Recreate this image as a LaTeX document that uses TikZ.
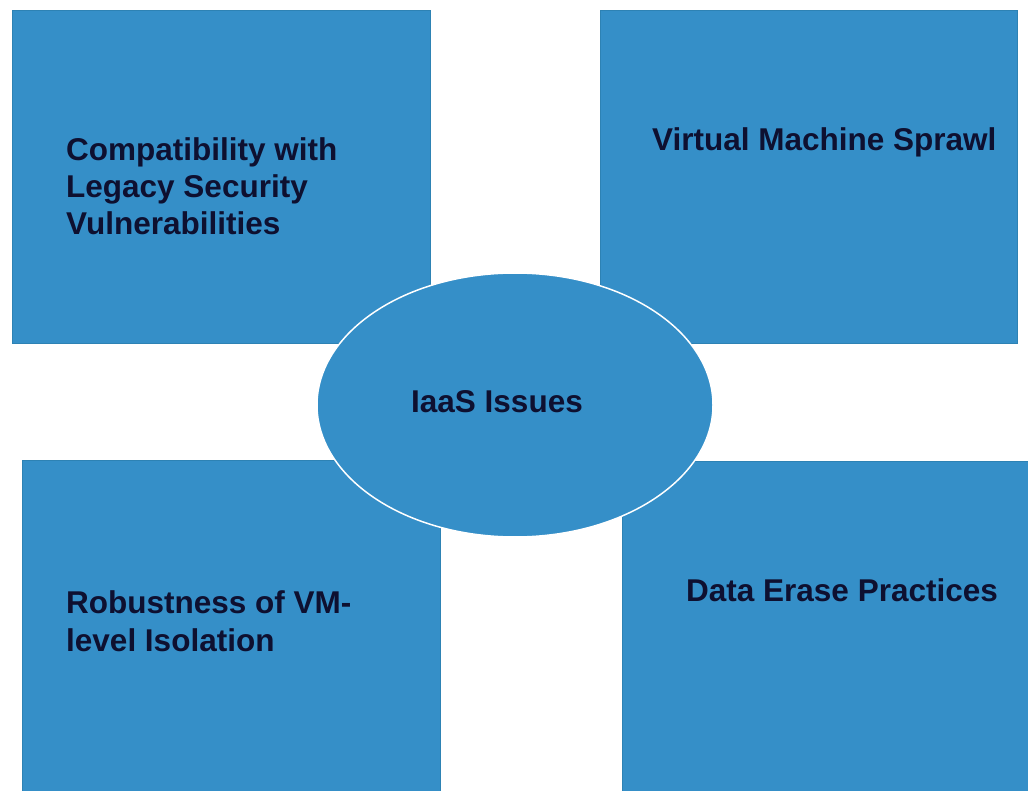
\documentclass[tikz,border=0pt]{standalone}
\usepackage{fontspec}
\setmainfont{Liberation Sans}
\usetikzlibrary{shapes.geometric}
\definecolor{boxblue}{RGB}{53,143,200}
\definecolor{edgeblue}{RGB}{45,130,180}
\definecolor{txt}{RGB}{14,16,48}
\tikzset{
  bluebox/.style={rectangle, fill=boxblue, draw=edgeblue, line width=0.6pt, inner sep=0pt, anchor=north west},
  lbl/.style={anchor=base west, inner sep=0pt, text=txt, font=\fontsize{31.5}{37}\selectfont\bfseries},
  hub/.style={ellipse, fill=boxblue, draw=white, line width=1.5pt, inner sep=0pt, minimum width=396pt, minimum height=264pt}
}
\begin{document}
\begin{tikzpicture}[x=1pt,y=-1pt]
\useasboundingbox (0,0) rectangle (1028,791);
\fill[white] (0,0) rectangle (1028,791);
\node[bluebox, minimum width=418pt, minimum height=333pt] (tl) at (12,10) {};
\node[bluebox, minimum width=417pt, minimum height=333pt] (tr) at (600,10) {};
\node[bluebox, minimum width=418pt, minimum height=340pt] (bl) at (22,460) {};
\node[bluebox, minimum width=412pt, minimum height=340pt] (br) at (622,461) {};
\node[hub] (hub) at (515,405) {};
\node[lbl] (tla) at (66,161) {Compatibility with};
\node[lbl] (tlb) at (66,198) {Legacy Security};
\node[lbl] (tlc) at (66,235) {Vulnerabilities};
\node[lbl] (tra) at (652,151) {Virtual Machine Sprawl};
\node[lbl] (hubt) at (411,413) {IaaS Issues};
\node[lbl] (bla) at (66,613) {Robustness of VM-};
\node[lbl] (blb) at (66,651) {level Isolation};
\node[lbl] (bra) at (686,601) {Data Erase Practices};
\end{tikzpicture}
\end{document}
